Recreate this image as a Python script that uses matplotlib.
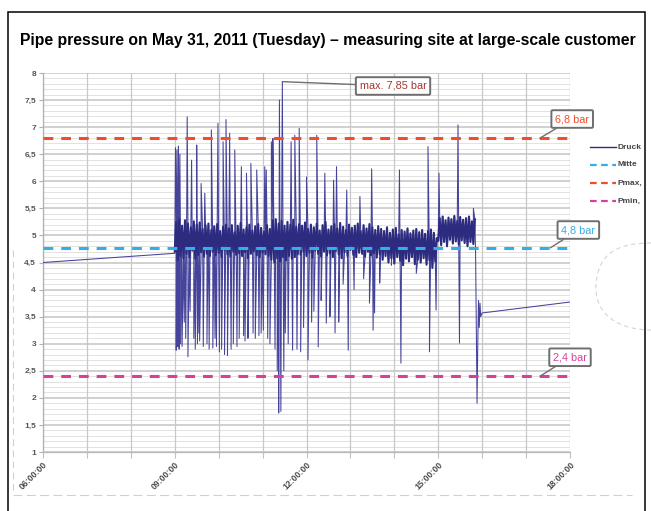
import matplotlib
matplotlib.use("Agg")
import matplotlib.pyplot as plt
import numpy as np
from matplotlib.lines import Line2D
from matplotlib.patches import Rectangle
from matplotlib.path import Path
from matplotlib.patches import PathPatch

plt.rcParams['font.family'] = ['Liberation Sans', 'DejaVu Sans']

# ---------------- data ----------------
title = "Pipe pressure on May 31, 2011 (Tuesday) \u2013 measuring site at large-scale customer"

x_tick_hours = [6, 9, 12, 15, 18]
x_tick_labels = ["06:00:00", "09:00:00", "12:00:00", "15:00:00", "18:00:00"]
y_tick_values = [1, 1.5, 2, 2.5, 3, 3.5, 4, 4.5, 5, 5.5, 6, 6.5, 7, 7.5, 8]
y_tick_labels = ["1", "1,5", "2", "2,5", "3", "3,5", "4", "4,5", "5", "5,5",
                 "6", "6,5", "7", "7,5", "8"]

# quiet morning period (hours, bar)
morning_t = [6.0, 9.0]
morning_p = [4.50, 4.67]

# dense measured band from 09:00, one reading every 2 minutes (bar)
core_start_h = 9.0
core_step_min = 2
core_p = [
    4.70, 5.25, 4.55, 5.30, 4.62, 5.18, 4.58, 5.28, 4.66, 5.22, 4.60, 5.15, 4.72, 5.26, 4.57, 5.20, 4.64, 5.24, 4.69, 5.12, 4.61,
    5.19, 4.66, 5.22, 4.62, 5.10, 4.70, 5.17, 4.63, 5.21, 4.68, 5.08, 4.60, 5.16, 4.73, 5.20, 4.65, 5.13, 4.61, 5.19, 4.70,
    5.06, 4.64, 5.18, 4.67, 5.23, 4.62, 5.11, 4.69, 5.15, 4.58, 5.20, 4.66, 5.09, 4.71, 5.17, 4.63, 5.21, 4.60, 5.14, 4.68,
    5.07, 4.65, 5.19, 4.62, 5.12,
    4.55, 5.28, 4.50, 5.30, 4.58, 5.22, 4.52, 5.27, 4.60, 5.18, 4.54, 5.25, 4.62, 5.20, 4.57, 5.29, 4.60, 5.16, 4.65, 5.21,
    4.64, 5.18, 4.70, 5.24, 4.62, 5.12, 4.68, 5.20, 4.59, 5.15, 4.72, 5.22, 4.66, 5.09, 4.61, 5.19, 4.70, 5.25, 4.63, 5.11,
    4.67, 5.17, 4.60, 5.21, 4.71, 5.13, 4.65, 5.23, 4.58, 5.16, 4.69, 5.10, 4.62, 5.20, 4.73, 5.14, 4.64, 5.18, 4.60, 5.22,
    4.68, 5.08, 4.66, 5.19, 4.61, 5.13, 4.70, 5.21, 4.63, 5.15, 4.67, 5.10, 4.59, 5.17, 4.65,
    5.12, 4.55, 5.08, 4.62, 5.15, 4.50, 5.05, 4.58, 5.11, 4.48, 5.14, 4.60, 5.02, 4.53, 5.10, 4.45, 5.07, 4.57, 5.13, 4.52,
    5.04, 4.60, 5.09, 4.47, 5.12, 4.55, 5.06, 4.50, 5.10, 4.58, 5.03, 4.46, 5.08, 4.54, 5.11, 4.40, 5.05, 4.52, 4.95,
    4.90, 5.32, 4.82, 5.35, 4.88, 5.28, 4.80, 5.33, 4.92, 5.30, 4.85, 5.36, 4.89, 5.27, 4.83, 5.34, 4.91, 5.29, 4.86, 5.32,
    4.80, 5.35, 4.88, 5.26, 4.84, 5.30,
]

# individual pressure spikes (minutes after 09:00, bar)
spike_min = [1, 2, 3, 4, 5, 6, 7, 8, 10, 13, 15, 17, 18, 21, 23, 26, 28, 30, 31, 33,
             34, 36, 39, 41, 44, 47, 50, 52, 55, 57, 59, 61, 64, 66, 68, 70, 72, 75, 77, 80,
             82, 85, 88, 91, 94, 96, 98, 100, 104, 107, 110, 112, 115, 118, 121, 123, 125, 127, 130, 132,
             134, 137, 140, 142, 143, 145, 147, 149, 151, 155, 159, 161, 164, 167, 170, 172, 176, 180, 182, 187,
             190, 194, 196, 200, 205, 207, 212, 217, 219, 221, 224, 230, 235, 237, 245, 253, 258, 266, 269, 271,
             273, 280, 296, 307, 309, 330, 346, 348, 357, 361, 387, 389, 408]
spike_p = [6.62, 2.88, 6.58, 2.95, 6.65, 2.90, 6.50, 3.00, 2.95, 3.40, 3.10, 7.19, 2.76, 3.60, 6.39, 3.10, 2.90, 6.67, 3.00, 3.20,
           3.05, 5.96, 2.95, 5.78, 3.00, 2.90, 6.95, 2.92, 3.10, 2.95, 7.07, 2.85, 2.90, 6.73, 2.80, 7.14, 2.78, 6.89, 2.90, 3.00,
           6.58, 2.95, 3.10, 6.27, 3.15, 3.05, 6.15, 3.10, 6.33, 3.20, 3.10, 6.21, 3.15, 3.20, 3.25, 6.27, 6.21, 3.10, 3.00, 6.73,
           6.79, 2.90, 2.50, 1.72, 7.50, 1.75, 7.84, 2.50, 3.20, 3.00, 6.73, 2.88, 6.85, 2.90, 6.98, 2.85, 3.30, 6.08, 2.70, 3.40,
           3.60, 6.85, 2.94, 3.80, 6.15, 3.38, 3.50, 6.02, 3.20, 6.27, 3.40, 4.10, 5.84, 2.88, 4.00, 5.72, 4.20, 3.75, 6.23, 3.25,
           3.57, 4.12, 4.45, 6.21, 2.64, 4.30, 6.64, 2.85, 3.62, 6.15, 7.04, 3.01, 5.50]

# pressure drop in the afternoon (minutes after 09:00, bar)
drop_min = [411, 412, 413, 414, 415, 416, 417, 418, 420]
drop_p = [4.70, 3.20, 1.90, 3.00, 3.80, 3.30, 3.75, 3.50, 3.57]

# quiet evening period (hours, bar)
evening_t = [16.02, 18.0]
evening_p = [3.57, 3.77]

mean_p = 4.77
p_max = 6.8
p_min = 2.4
max_value = 7.84
max_time_h = 9.0 + 147 / 60

legend_labels = ["Druck", "Mitte", "Pmax,", "Pmin,"]

# ---------------- colours ----------------
c_line = "#2c2b7f"
c_spike = "#45439a"
c_mean = "#33aee6"
c_max = "#f04e2a"
c_min = "#d6409a"

# ---------------- assemble series ----------------
core_t = [core_start_h + i * core_step_min / 60 for i in range(len(core_p))]
spk_t = [core_start_h + m / 60 for m in spike_min]
drp_t = [core_start_h + m / 60 for m in drop_min]
t_all = np.array(morning_t + core_t + spk_t + drp_t + evening_t)
p_all = np.array(morning_p + core_p + spike_p + drop_p + evening_p)
order = np.argsort(t_all, kind="stable")
t_all = t_all[order]
p_all = p_all[order]

# ---------------- figure ----------------
W, H = 651, 511
fig = plt.figure(figsize=(W / 100, H / 100), dpi=100)
fig.patch.set_facecolor("white")

ax = fig.add_axes([43 / W, (H - 452) / H, (570 - 43) / W, (452 - 73) / H])
ax.set_xlim(6, 18)
ax.set_ylim(1, 8)

# grid
for v in np.arange(10, 81) / 10:
    major = abs(v * 2 - round(v * 2)) < 1e-6
    ax.axhline(v, color="#c4c4c4" if major else "#e2e2e2",
               lw=1.1 if major else 0.7, zorder=0)
for h in range(6, 19):
    ax.axvline(h, color="#c8c8c8", lw=0.9, zorder=0)

ax.plot(t_all, p_all, color=c_spike, lw=0.75, zorder=3)
ax.plot(core_t, core_p, color=c_line, lw=1.5, zorder=3)

ax.axhline(mean_p, color=c_mean, lw=2.2, dashes=(3.2, 2.6), zorder=4)
ax.axhline(p_max, color=c_max, lw=2.2, dashes=(3.2, 2.6), zorder=4)
ax.axhline(p_min, color=c_min, lw=2.2, dashes=(3.2, 2.6), zorder=4)

# ticks
ax.set_yticks(y_tick_values)
ax.set_yticklabels(y_tick_labels)
ax.set_xticks(list(range(6, 19)))
ax.set_xticklabels([x_tick_labels[x_tick_hours.index(h)] if h in x_tick_hours else ""
                    for h in range(6, 19)])
ax.tick_params(axis="y", length=3, width=0.8, color="#b0b0b0", pad=2,
               labelsize=6, labelcolor="#555555")
ax.tick_params(axis="x", length=4, width=0.8, color="#c0c0c0", pad=2,
               labelsize=6.2, labelcolor="#4a4a4a")
for lab in ax.get_yticklabels():
    lab.set_fontweight("bold")
for lab in ax.get_xticklabels():
    lab.set_rotation(45)
    lab.set_ha("right")
    lab.set_va("top")
    lab.set_rotation_mode("anchor")
    lab.set_fontweight("bold")

for s in ["top", "right"]:
    ax.spines[s].set_visible(False)
ax.spines["left"].set_color("#b0b0b0")
ax.spines["bottom"].set_color("#b8b8b8")
ax.spines["left"].set_linewidth(0.9)
ax.spines["bottom"].set_linewidth(0.9)

# annotations
box = lambda: dict(boxstyle="round,pad=0.35,rounding_size=0.12", fc="white",
                   ec="#6e6e6e", lw=1.4)
arr = dict(arrowstyle="-", color="#6e6e6e", lw=1.0, shrinkA=0, shrinkB=0)
ax.annotate("max. 7,85 bar", xy=(max_time_h, max_value), xytext=(13.97, 7.76),
            fontsize=7.8, color="#a8342e", ha="center", va="center",
            bbox=box(), arrowprops=arr, annotation_clip=False, zorder=6)
ax.annotate("6,8 bar", xy=(17.32, p_max), xytext=(18.05, 7.15),
            fontsize=7.8, color=c_max, ha="center", va="center",
            bbox=box(), arrowprops=arr, annotation_clip=False, zorder=6)
ax.annotate("4,8 bar", xy=(17.55, mean_p), xytext=(18.19, 5.10),
            fontsize=7.8, color=c_mean, ha="center", va="center",
            bbox=box(), arrowprops=arr, annotation_clip=False, zorder=6)
ax.annotate("2,4 bar", xy=(17.32, p_min), xytext=(18.0, 2.75),
            fontsize=7.8, color=c_min, ha="center", va="center",
            bbox=box(), arrowprops=arr, annotation_clip=False, zorder=6)

# title
fig.text(328 / W, 1 - 40 / H, title, ha="center", va="center",
         fontsize=11.3, fontweight="bold", color="black")

# frame
fig.add_artist(Rectangle((8 / W, -0.05), (645 - 8) / W, 1.05 - 12 / H,
                         transform=fig.transFigure, fill=False, ec="black",
                         lw=1.1, zorder=10))

# legend (entries appear cut at the frame in the original)
leg_y = [147, 165, 183, 201]
leg_style = [(c_line, 1.0, None), (c_mean, 1.6, (3, 2)), (c_max, 1.6, (3, 2)), (c_min, 1.6, (3, 2))]
for yy, lab, (col, lw, dsh) in zip(leg_y, legend_labels, leg_style):
    ln = Line2D([590 / W, 616 / W], [1 - yy / H] * 2, transform=fig.transFigure,
                color=col, lw=lw)
    if dsh:
        ln.set_dashes(dsh)
    fig.add_artist(ln)
    fig.text(618 / W, 1 - yy / H, lab, fontsize=6, color="#444444",
             va="center", ha="left", fontweight="bold")

# faint scan artefacts of the inner chart border
fig.add_artist(Line2D([13 / W, 13 / W], [1 - 250 / H, 1 - 494 / H], transform=fig.transFigure,
                      color="#d0d0d0", lw=0.8, dashes=(6, 4)))
fig.add_artist(Line2D([13 / W, 632 / W], [1 - 495 / H] * 2, transform=fig.transFigure,
                      color="#d0d0d0", lw=0.8, dashes=(8, 4)))
verts = [(651, 243), (615, 243), (598, 255), (596, 285), (594, 315), (620, 330), (651, 330)]
codes = [Path.MOVETO, Path.CURVE4, Path.CURVE4, Path.CURVE4, Path.CURVE4, Path.CURVE4, Path.CURVE4]
pp = Path([(x / W, 1 - y / H) for x, y in verts], codes)
fig.add_artist(PathPatch(pp, transform=fig.transFigure, fill=False, ec="#d4d4d4",
                         lw=0.8, ls=(0, (4, 3))))

fig.savefig("out.png", dpi=100, facecolor="white")
